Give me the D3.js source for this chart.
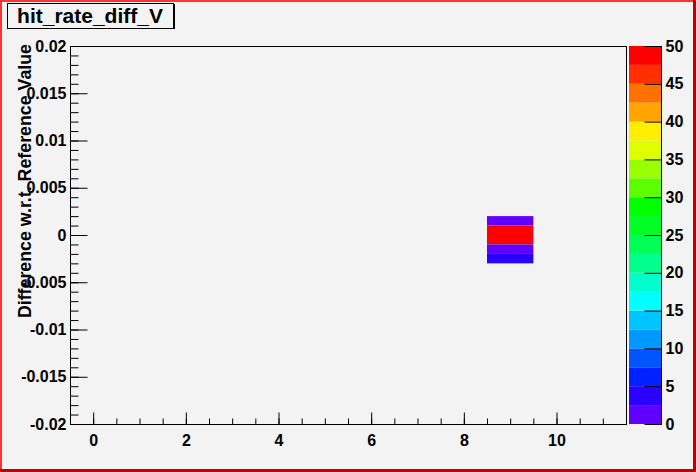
<!DOCTYPE html>
<html>
<head>
<meta charset="utf-8">
<script src="https://cdn.jsdelivr.net/npm/d3@7"></script>
<style>
  body { margin: 0; background: #f3f3f3; }
  text { font-family: "Liberation Sans", Arial, sans-serif; font-weight: bold; fill: #000; }
</style>
</head>
<body>
<div id="chart"></div>
<script>
// histogram cells: bin centre on x, lower edge on y, content
var cellX = [9, 9, 9, 9, 9];
var cellY = [0.001, 0, -0.001, -0.002, -0.003];
var cellCount = [1, 50, 49, 2, 4];

var xTicks = [0, 2, 4, 6, 8, 10];
var yTicks = [-0.02, -0.015, -0.01, -0.005, 0, 0.005, 0.01, 0.015, 0.02];
var zTicks = [0, 5, 10, 15, 20, 25, 30, 35, 40, 45, 50];

// 20 contour levels, bottom to top
var paletteColors = ["#6000ff", "#2a00ff", "#0022ff", "#0055ff", "#0099ff",
  "#00c4ff", "#00ffff", "#00ffcc", "#00ff8c", "#00ff55",
  "#00ff22", "#00ff00", "#5cff00", "#99ff00", "#ddff00",
  "#ffee00", "#ffa500", "#ff7200", "#ff3000", "#ff0000"];

var W = 696, H = 472;
var fLeft = 70, fRight = 626, fTop = 46, fBottom = 424;
var binW = 1, binH = 0.001;

var svg = d3.select("#chart").append("svg")
  .attr("width", W).attr("height", H);

svg.append("rect").attr("width", W).attr("height", H).attr("fill", "#f3f3f3");

var x = d3.scaleLinear().domain([-0.5, 11.5]).range([fLeft, fRight]);
var y = d3.scaleLinear().domain([-0.02, 0.02]).range([fBottom, fTop]);
var z = d3.scaleLinear().domain([0, 50]).range([fBottom, fTop]);
var zMax = 50, nLevels = paletteColors.length;

function colorFor(v) {
  var i = Math.floor(v / zMax * nLevels);
  return paletteColors[Math.max(0, Math.min(nLevels - 1, i))];
}

// cells
svg.append("g").selectAll("rect")
  .data(cellCount)
  .enter().append("rect")
  .attr("x", function(d, i) { return x(cellX[i] - binW / 2); })
  .attr("y", function(d, i) { return y(cellY[i] + binH); })
  .attr("width", function(d, i) { return x(cellX[i] + binW / 2) - x(cellX[i] - binW / 2); })
  .attr("height", function(d, i) { return y(cellY[i]) - y(cellY[i] + binH); })
  .attr("fill", function(d) { return colorFor(d); });

// frame
svg.append("rect")
  .attr("x", fLeft + 0.5).attr("y", fTop + 0.5)
  .attr("width", fRight - fLeft).attr("height", fBottom - fTop)
  .attr("fill", "none").attr("stroke", "#000");

function fmt(d) {
  var s = String(Math.round(d * 1000) / 1000);
  return s == "-0" ? "0" : s;
}

// y axis
var yMinor = d3.range(-0.02, 0.0201, 0.001);
svg.append("g").attr("transform", "translate(" + (fLeft + 0.5) + ",0)")
  .call(d3.axisLeft(y).tickValues(yMinor).tickSize(-8).tickSizeOuter(0).tickFormat(""));
svg.append("g").attr("transform", "translate(" + (fLeft + 0.5) + ",0)")
  .call(d3.axisLeft(y).tickValues(yTicks).tickSize(-17).tickSizeOuter(0).tickPadding(4).tickFormat(fmt));

// x axis
var xMinor = d3.range(-0.5, 11.51, 0.5);
svg.append("g").attr("transform", "translate(0," + (fBottom + 0.5) + ")")
  .call(d3.axisBottom(x).tickValues(xMinor).tickSize(-6).tickSizeOuter(0).tickFormat(""));
svg.append("g").attr("transform", "translate(0," + (fBottom + 0.5) + ")")
  .call(d3.axisBottom(x).tickValues(xTicks).tickSize(-12).tickSizeOuter(0).tickPadding(10).tickFormat(fmt));

svg.selectAll(".domain").remove();
svg.selectAll(".tick text").attr("font-size", 16).attr("font-family", null);

// y title
svg.append("text")
  .attr("transform", "translate(31,44) rotate(-90)")
  .attr("text-anchor", "end")
  .attr("font-size", 17.8)
  .text("Difference w.r.t. Reference Value");

// palette
var palX0 = 629, palX1 = 661;
svg.append("g").selectAll("rect")
  .data(paletteColors)
  .enter().append("rect")
  .attr("x", palX0)
  .attr("y", function(d, i) { return z((i + 1) * zMax / nLevels); })
  .attr("width", palX1 - palX0)
  .attr("height", function(d, i) { return z(i * zMax / nLevels) - z((i + 1) * zMax / nLevels); })
  .attr("fill", function(d) { return d; });

var zAx = svg.append("g").attr("transform", "translate(" + (palX1 + 0.5) + ",0)")
  .call(d3.axisRight(z).tickValues(zTicks).tickSize(-17).tickSizeOuter(0).tickPadding(4).tickFormat(fmt));
zAx.select(".domain").remove();
zAx.selectAll(".tick text").attr("font-size", 16).attr("font-family", null);
svg.append("line")
  .attr("x1", palX1 + 0.5).attr("x2", palX1 + 0.5)
  .attr("y1", fTop).attr("y2", fBottom + 1)
  .attr("stroke", "#000");

// title box
svg.append("rect").attr("x", 9).attr("y", 4).attr("width", 166).attr("height", 25).attr("fill", "#000");
svg.append("rect").attr("x", 7.5).attr("y", 3.5).attr("width", 166).attr("height", 25)
  .attr("fill", "#f3f3f3").attr("stroke", "#000");
svg.append("text")
  .attr("x", 90).attr("y", 23)
  .attr("text-anchor", "middle")
  .attr("font-size", 21)
  .text("hit_rate_diff_V");

// canvas border
svg.append("rect").attr("x", 0).attr("y", 0).attr("width", W).attr("height", 2).attr("fill", "#ff3333");
svg.append("rect").attr("x", 0).attr("y", 0).attr("width", 2).attr("height", H).attr("fill", "#ff3333");
svg.append("rect").attr("x", 0).attr("y", H - 3).attr("width", W).attr("height", 3).attr("fill", "#c00000");
svg.append("rect").attr("x", W - 3).attr("y", 0).attr("width", 3).attr("height", H).attr("fill", "#c00000");
</script>
</body>
</html>
